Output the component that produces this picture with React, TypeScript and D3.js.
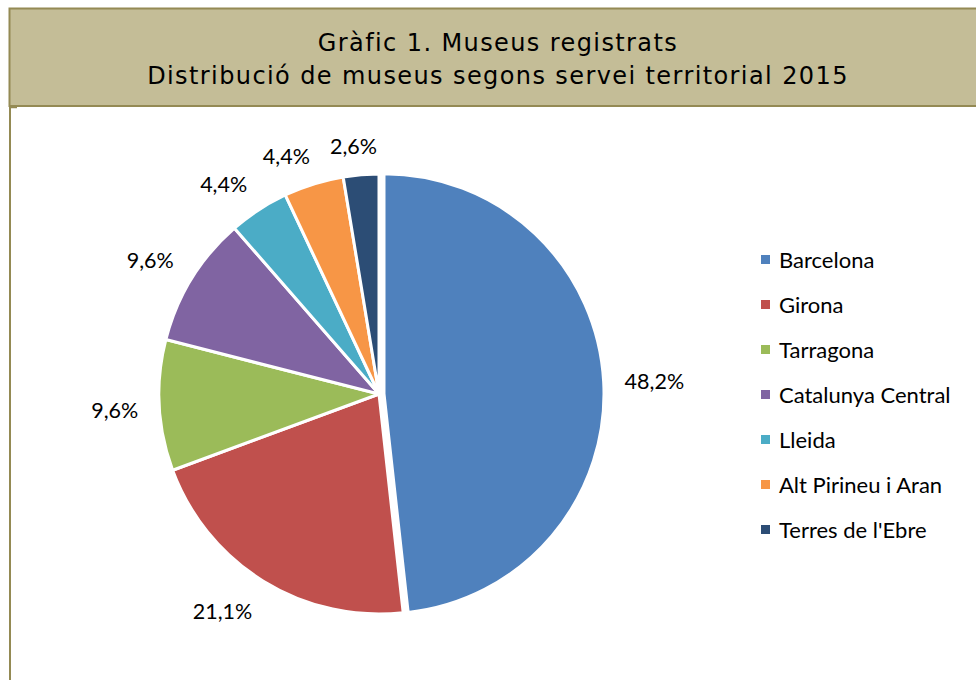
import React from 'react';
import * as d3 from 'd3';

const categories = [
  'Barcelona',
  'Girona',
  'Tarragona',
  'Catalunya Central',
  'Lleida',
  'Alt Pirineu i Aran',
  "Terres de l'Ebre",
];
const values = [48.2, 21.1, 9.6, 9.6, 4.4, 4.4, 2.6];
const colors = ['#4F81BD', '#C0504D', '#9BBB59', '#8064A2', '#4BACC6', '#F79646', '#2C4D75'];
const titleLines = ['Gràfic 1. Museus registrats', 'Distribució de museus segons servei territorial 2015'];

const W = 976;
const H = 680;
const CX = 379;
const CY = 394;
const R = 220;
const EXPLODE = 5;
const GAP = 21;
const LABEL_FONT = 'Lato, "Open Sans", sans-serif';
const LABEL_SIZE = 21.5;
const LEGEND_SIZE = 22;
const TITLE_FONT = '"DejaVu Sans", Verdana, sans-serif';
const TITLE_SIZE = 24;

let ctx: CanvasRenderingContext2D | null = null;
function measure(text: string, size: number, family: string): number {
  if (!ctx) ctx = document.createElement('canvas').getContext('2d');
  if (!ctx) return text.length * size * 0.5;
  ctx.font = `${size}px ${family}`;
  return ctx.measureText(text).width;
}

const fmt = (v: number) => v.toFixed(1).replace('.', ',') + '%';

export default function App() {
  const pie = d3.pie<number>().sort(null).value((d) => d);
  const arcs = pie(values);
  const arcGen = d3.arc<d3.PieArcDatum<number>>().innerRadius(0).outerRadius(R);
  const clamp = (v: number) => Math.max(-1, Math.min(1, v * 3));

  const legendY = d3.scalePoint<string>().domain(categories).range([260, 530]);

  return (
    <svg
      width={W}
      height={H}
      style={{ position: 'absolute', left: 0, top: 0, background: '#fff' }}
    >
      <rect x={0} y={0} width={W} height={H} fill="#fff" />
      {/* title box */}
      <rect x={9.5} y={8.5} width={W + 20} height={97.5} fill="#C4BD97" stroke="#948A54" strokeWidth={2} />
      <line x1={10} x2={10} y1={106} y2={H} stroke="#948A54" strokeWidth={2} />
      <line x1={9} x2={17} y1={107.5} y2={107.5} stroke="#948A54" strokeWidth={1.5} />
      {titleLines.map((t, i) => (
        <text
          key={t}
          x={498}
          y={51 + i * 33}
          textAnchor="middle"
          fontFamily={TITLE_FONT}
          fontSize={TITLE_SIZE}
          letterSpacing={1.4}
          fill="#000"
        >
          {t}
        </text>
      ))}

      {/* pie */}
      <g>
        {arcs.map((a, i) => {
          const mid = (a.startAngle + a.endAngle) / 2;
          const off = i === 0 ? EXPLODE : 0;
          const tx = CX + off * Math.sin(mid);
          const ty = CY - off * Math.cos(mid);
          return (
            <path
              key={categories[i]}
              d={arcGen(a) || ''}
              transform={`translate(${tx},${ty})`}
              fill={colors[i]}
              stroke="#fff"
              strokeWidth={3}
              strokeLinejoin="round"
            />
          );
        })}
      </g>

      {/* data labels */}
      {arcs.map((a, i) => {
        const mid = (a.startAngle + a.endAngle) / 2;
        const sx = Math.sin(mid);
        const sy = -Math.cos(mid);
        const off = i === 0 ? EXPLODE : 0;
        const ax = CX + (off + R + GAP) * sx;
        const ay = CY + (off + R + GAP) * sy;
        const label = fmt(values[i]);
        const w = measure(label, LABEL_SIZE, LABEL_FONT);
        const h = 20;
        const lx = ax + (clamp(sx) * w) / 2;
        const ly = ay + (clamp(sy) * h) / 2;
        return (
          <text
            key={'l' + i}
            x={lx}
            y={ly + LABEL_SIZE * 0.36 + 2.5}
            textAnchor="middle"
            fontFamily={LABEL_FONT}
            fontSize={LABEL_SIZE}
            fill="#000"
          >
            {label}
          </text>
        );
      })}

      {/* legend */}
      {categories.map((c, i) => {
        const y = legendY(c) || 0;
        return (
          <g key={'lg' + c}>
            <rect x={761} y={y - 5} width={9} height={9} fill={colors[i]} />
            <text
              x={779}
              y={y + LEGEND_SIZE * 0.36}
              fontFamily={LABEL_FONT}
              fontSize={LEGEND_SIZE}
              fill="#000"
            >
              {c}
            </text>
          </g>
        );
      })}
    </svg>
  );
}
